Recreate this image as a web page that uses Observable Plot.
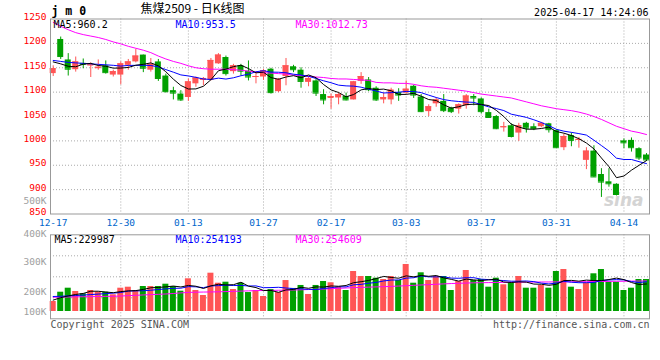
<!DOCTYPE html>
<html><head><meta charset="utf-8">
<script src="https://cdn.jsdelivr.net/npm/d3@7"></script>
<script src="https://cdn.jsdelivr.net/npm/@observablehq/plot@0.6"></script>
<style>
body{margin:0;background:#fff;}
#wrap{position:relative;width:660px;height:360px;overflow:hidden;background:#fff;}
</style></head><body><div id="wrap"></div>
<script>
const dates = ["12-17","12-18","12-19","12-20","12-23","12-24","12-25","12-26","12-27","12-30","12-31",
"01-02","01-03","01-06","01-07","01-08","01-09","01-10","01-13","01-14","01-15","01-16","01-17","01-20","01-21","01-22","01-23","01-24","01-27",
"02-05","02-06","02-07","02-10","02-11","02-12","02-13","02-14","02-17","02-18","02-19","02-20","02-21","02-24","02-25","02-26","02-27","02-28",
"03-03","03-04","03-05","03-06","03-07","03-10","03-11","03-12","03-13","03-14","03-17","03-18","03-19","03-20","03-21","03-24","03-25","03-26","03-27","03-28","03-31",
"04-01","04-02","04-03","04-07","04-08","04-09","04-10","04-11","04-14","04-15","04-16","04-17"];
const open  = [1138,1208,1166,1146,1159,1154,1148,1154,1135,1135,1155,1162,1176,1145,1162,1133,1103,1096,1089,1117,1124,1124,1158,1171,1142,1154,1143,1130,1131,1147,1101,1132,1152,1145,1120,1123,1095,1087,1088,1091,1084,1122,1125,1108,1084,1084,1099,1098,1112,1090,1060,1076,1081,1067,1065,1072,1091,1086,1058,1050,1027,1031,1016,1036,1029,1029,1035,1021,986,1011,1001,960,979,931,916,911,1000,1001,984,971];
const high  = [1154,1213,1179,1172,1168,1160,1166,1164,1145,1162,1167,1188,1176,1169,1167,1137,1110,1103,1127,1131,1130,1169,1179,1174,1157,1157,1164,1140,1147,1149,1128,1169,1155,1150,1132,1127,1105,1096,1098,1098,1122,1140,1130,1111,1098,1108,1107,1123,1114,1095,1074,1088,1095,1069,1076,1095,1095,1088,1065,1052,1038,1035,1036,1038,1035,1038,1036,1023,1014,1016,1007,986,990,943,943,912,1004,1006,986,974];
const low   = [1132,1167,1133,1141,1148,1130,1145,1137,1131,1115,1145,1160,1140,1141,1122,1098,1084,1081,1081,1110,1113,1123,1157,1133,1137,1133,1123,1117,1124,1096,1099,1113,1140,1108,1111,1091,1074,1065,1074,1082,1084,1116,1101,1081,1076,1074,1081,1096,1087,1058,1050,1069,1058,1056,1055,1065,1072,1055,1047,1023,1018,1006,999,1016,1021,1027,1016,985,980,988,985,941,925,884,905,887,984,977,960,958];
const close = [1148,1173,1147,1162,1157,1156,1151,1140,1142,1158,1162,1174,1149,1157,1128,1101,1098,1084,1121,1129,1128,1165,1176,1138,1154,1143,1131,1132,1144,1099,1126,1154,1146,1122,1128,1098,1084,1091,1095,1084,1121,1132,1105,1084,1089,1104,1094,1106,1094,1060,1070,1084,1062,1060,1074,1092,1088,1060,1048,1025,1029,1009,1031,1026,1025,1036,1023,986,1009,1001,1003,979,926,915.5,912,890,996,986,965,961];
const ma5  = [1162,1158,1153,1152,1157.4,1159.0,1154.6,1153.2,1149.2,1149.4,1150.6,1155.2,1157.0,1160.0,1154.0,1141.8,1126.6,1113.6,1106.4,1106.6,1112.0,1125.4,1143.8,1147.2,1152.2,1155.2,1148.4,1139.6,1140.8,1129.8,1126.4,1131.0,1133.8,1129.4,1135.2,1129.6,1115.6,1104.6,1099.2,1090.4,1095.0,1104.6,1107.4,1105.2,1106.2,1102.8,1095.2,1095.4,1097.4,1091.6,1084.8,1082.8,1074.0,1067.2,1070.0,1074.4,1075.2,1074.8,1072.4,1062.6,1050.0,1034.2,1028.4,1024.0,1024.0,1025.4,1028.2,1019.2,1015.8,1011.0,1004.4,995.6,983.6,964.9,947.1,924.5,927.9,939.9,949.8,959.6];
const ma10 = [1165,1163,1161,1160,1159,1158,1157,1156,1155,1153.4,1154.8,1154.9,1155.1,1154.6,1151.7,1146.2,1140.9,1135.3,1133.2,1130.3,1126.9,1126.0,1128.7,1126.8,1129.4,1133.6,1136.9,1141.7,1144.0,1141.0,1140.8,1139.7,1136.7,1135.1,1132.5,1128.0,1123.3,1119.2,1114.3,1112.8,1112.3,1110.1,1106.0,1102.2,1098.3,1098.9,1099.9,1101.4,1101.3,1098.9,1093.8,1089.0,1084.7,1082.3,1080.8,1079.6,1079.0,1074.4,1069.8,1066.3,1062.2,1054.7,1051.6,1048.2,1043.3,1037.7,1031.2,1023.8,1019.9,1017.5,1014.9,1011.9,1001.4,990.4,979.1,964.5,961.8,961.8,957.4,953.4];
const ma30 = [1243,1235,1228,1222,1218,1215,1212,1208,1203,1199,1194,1190,1186,1181,1174,1168,1163,1159,1154,1150,1148,1147,1147,1147,1146,1145,1143,1141,1140,1139,1138,1137,1135,1134,1132,1131,1130,1128,1127,1127,1126,1125,1124,1120,1119,1119,1118,1118,1116,1113,1111,1110,1108,1106,1104,1102,1099,1096,1094,1092,1090,1088,1084,1080,1076,1072,1069,1066,1064,1062,1059,1055,1050,1044,1037,1030,1025,1020,1017,1013];
const volume = [83300,160800,194200,166700,147500,175000,160800,160800,139200,194200,202500,175000,208300,208300,208300,227500,208300,169200,272500,175000,133300,319200,235800,244200,183300,235800,158000,175000,125000,183000,158000,258000,192000,217000,142000,217000,250000,239200,202500,175000,333300,291700,291700,277500,266700,291700,258300,391700,235800,322500,258300,291700,291700,175000,250000,341700,258300,266700,202500,277500,222500,239200,291700,194200,194200,216700,194200,333300,350000,202500,183300,239200,314200,350000,244200,244200,175000,194200,266700,266700];
const volMa5 = [95000,115000,130000,142000,150500,168800,168800,162200,156700,166000,171500,174300,183800,197700,200500,205500,212100,204300,217200,210500,191700,213800,227200,221500,223200,243700,211400,199300,175400,175400,159800,179800,183200,201600,193400,205200,203600,213000,210100,216700,240000,248300,258800,273800,292200,283900,277200,297200,288800,300000,293300,300000,280000,267800,253300,270000,263300,258300,263800,269300,245500,241700,246700,245000,228400,227200,218200,226500,257700,259300,252700,261700,257800,257800,266200,278400,265500,241500,224900,229400];
const volMa10 = [125000,127000,130000,133000,137000,141000,145000,149000,153000,158300,170200,171600,173000,177200,183200,188500,193200,194100,207400,205500,198600,213000,215700,219300,216800,217700,212600,213200,198500,199300,201700,195600,191200,188500,184400,182500,191700,198100,205900,205100,222600,226000,235900,242000,254500,261900,262800,278000,281300,296100,288600,288600,288600,278300,276700,281700,281700,269200,265800,261300,257800,252500,252500,254400,248900,236400,229900,236600,251400,243900,239900,239900,242200,257800,262800,265500,263600,249700,241400,247800];
const volMa30 = [119000,120000,121000,122000,123000,124000,125000,126000,127000,129000,132000,135000,138000,141000,143000,146000,150000,155000,159000,161000,162000,163000,164000,166000,168000,170000,172000,174000,175000,176000,177000,178000,179000,181000,183000,185000,187000,190000,193000,196000,199000,201000,203000,205000,207000,209000,212000,215000,218000,221000,224000,227000,230000,233000,235000,237000,239000,240000,241000,242000,243000,244000,244000,245000,245000,246000,246000,247000,247000,248000,248000,249000,250000,250000,251000,252000,252000,253000,254000,254600];
const xTickLabels = ["12-17","12-30","01-13","01-27","02-17","03-03","03-17","03-31","04-14"];
const priceTicks = [850,900,950,1000,1050,1100,1150,1200,1250];
const volTicks = [100000,200000,300000,400000,500000];
const maText = ["MA5:960.2","MA10:953.5","MA30:1012.73"];
const volMaText = ["MA5:229987","MA10:254193","MA30:254609"];

const RED = "#ff5555", GREEN = "#00a000", GRID = "#aaaaaa", FRAME = "#999999";
const MONO = "DejaVu Sans Mono";
const rows = dates.map((d, i) => ({i, d, o: open[i], h: high[i], l: low[i], c: close[i], v: volume[i]}));
const col = r => (r.c >= r.o ? RED : GREEN);
const tickIdx = xTickLabels.map(t => dates.indexOf(t));
const xDomain = [-0.36, 79.4];
const half = 0.4;
const baseStyle = {background: "transparent", fontFamily: MONO, fontSize: "10px", overflow: "visible"};
const dash = "1,2";
const series = arr => arr.map((v, i) => [i, v]);
const kfmt = d => d / 1000 + "K";
const wrap = document.getElementById("wrap");
function place(el, top) { el.style.position = "absolute"; el.style.left = "0px"; el.style.top = top + "px"; wrap.appendChild(el); }

const main = Plot.plot({
  width: 660, height: 230, marginLeft: 50, marginRight: 11, marginTop: 18.5, marginBottom: 16.5,
  x: {domain: xDomain, axis: null},
  y: {domain: [850, 1250], axis: null},
  color: {type: "identity"},
  style: baseStyle,
  marks: [
    Plot.ruleY(priceTicks.filter(v => v > 850 && v < 1250), {y: d => d, stroke: GRID, strokeDasharray: dash}),
    Plot.ruleX(tickIdx.filter(i => i > 0), {x: d => d, stroke: GRID, strokeDasharray: dash}),
    Plot.text(["sina"], {frameAnchor: "bottom-right", dx: -6, dy: -13, fill: "#d4d4d4", fontSize: 17, fontWeight: "bold", fontStyle: "italic", fontFamily: "DejaVu Sans", textAnchor: "end", lineAnchor: "middle"}),
    Plot.ruleX(rows, {x: "i", y1: "l", y2: "h", stroke: col}),
    Plot.rect(rows, {x1: r => r.i - half, x2: r => r.i + half, y1: r => Math.min(r.o, r.c), y2: r => Math.max(r.o, r.c), fill: col}),
    Plot.ruleY(rows, {x1: r => r.i - half, x2: r => r.i + half, y: "c", stroke: col}),
    Plot.line(series(ma30), {stroke: "#ff00ff", strokeWidth: 1, clip: true}),
    Plot.line(series(ma10), {stroke: "#0000ff", strokeWidth: 1, clip: true}),
    Plot.line(series(ma5), {stroke: "#000000", strokeWidth: 1, clip: true}),
    Plot.frame({stroke: FRAME}),
    Plot.text(priceTicks, {y: d => d, text: d => String(d), frameAnchor: "left", textAnchor: "end", lineAnchor: "middle", dx: -4, dy: -2, fill: "#ff0000", fontSize: 9.5}),
    Plot.text(tickIdx, {x: d => d, text: (d, i) => xTickLabels[i], frameAnchor: "bottom", lineAnchor: "middle", dy: 9, fill: "#0066cc", fontSize: 9.5}),
    Plot.text([maText[0]], {frameAnchor: "top-left", textAnchor: "start", lineAnchor: "middle", dx: 3, dy: 5.5, fill: "#000000"}),
    Plot.text([maText[1]], {frameAnchor: "top-left", textAnchor: "start", lineAnchor: "middle", dx: 125, dy: 5.5, fill: "#0000ff"}),
    Plot.text([maText[2]], {frameAnchor: "top-left", textAnchor: "start", lineAnchor: "middle", dx: 245, dy: 5.5, fill: "#ff00ff"}),
    Plot.text(["j m 0"], {frameAnchor: "top-left", textAnchor: "start", lineAnchor: "middle", dx: 1, dy: -8, fontWeight: "bold", fontSize: 11.5, fill: "#000"}),
    Plot.text(["焦煤2509 - 日K线图"], {frameAnchor: "top-left", textAnchor: "start", lineAnchor: "middle", dx: 90, dy: -10, fontFamily: "Noto Sans CJK SC", fontSize: 12, fill: "#000"}),
    Plot.text(["2025-04-17 14:24:06"], {frameAnchor: "top-right", textAnchor: "end", lineAnchor: "middle", dx: -1, dy: -6.5, fill: "#000"})
  ]
});
place(main, 0);

const vTop = 234.3 - 190, vBottom = 330 - 318.3;
const volDomain = [-60833, 639167];
const volGrid = [1, 2, 3].map(k => volDomain[0] + (volDomain[1] - volDomain[0]) * k / 4);
const vol = Plot.plot({
  width: 660, height: 140, marginLeft: 50, marginRight: 11, marginTop: vTop, marginBottom: vBottom,
  x: {domain: xDomain, axis: null},
  y: {domain: volDomain, axis: null},
  color: {type: "identity"},
  style: baseStyle,
  marks: [
    Plot.ruleY(volGrid, {y: d => d, stroke: GRID, strokeDasharray: dash}),
    Plot.ruleX(tickIdx.filter(i => i > 0), {x: d => d, stroke: GRID, strokeDasharray: dash}),
    Plot.rect(rows, {x1: r => r.i - half, x2: r => r.i + half, y1: 0, y2: "v", fill: col}),
    Plot.line(series(volMa30), {stroke: "#ff00ff", strokeWidth: 1}),
    Plot.line(series(volMa10), {stroke: "#0000ff", strokeWidth: 1}),
    Plot.line(series(volMa5), {stroke: "#000000", strokeWidth: 1}),
    Plot.frame({stroke: FRAME}),
    Plot.text([volMaText[0]], {frameAnchor: "top-left", textAnchor: "start", lineAnchor: "middle", dx: 4, dy: 4.5, fill: "#000000"}),
    Plot.text([volMaText[1]], {frameAnchor: "top-left", textAnchor: "start", lineAnchor: "middle", dx: 125, dy: 4.5, fill: "#0000ff"}),
    Plot.text([volMaText[2]], {frameAnchor: "top-left", textAnchor: "start", lineAnchor: "middle", dx: 245, dy: 4.5, fill: "#ff00ff"}),
    Plot.text(["Copyright 2025 SINA.COM"], {frameAnchor: "bottom-left", textAnchor: "start", lineAnchor: "middle", dx: 0, dy: 6, fill: "#555"}),
    Plot.text(["http://finance.sina.com.cn"], {frameAnchor: "bottom-right", textAnchor: "end", lineAnchor: "middle", dx: 0, dy: 6, fill: "#555"})
  ]
});
place(vol, 190);

const lab = Plot.plot({
  width: 50, height: 140, marginLeft: 0, marginRight: 0, marginTop: 0, marginBottom: 0,
  y: {domain: [100000, 500000], range: [130, 10], axis: null},
  style: baseStyle,
  marks: [
    Plot.text(volTicks.filter(v => v === 500000), {y: d => d, text: kfmt, frameAnchor: "right", textAnchor: "end", lineAnchor: "middle", dx: -4, dy: 0, fill: "#a0a0a0", fontSize: 9.5}),
    Plot.text(volTicks.filter(v => v === 400000), {y: d => d, text: kfmt, frameAnchor: "right", textAnchor: "end", lineAnchor: "middle", dx: -4, dy: 3.8, fill: "#a0a0a0", fontSize: 9.5}),
    Plot.text(volTicks.filter(v => v > 100000 && v < 400000), {y: d => d, text: kfmt, frameAnchor: "right", textAnchor: "end", lineAnchor: "middle", dx: -4, dy: 1.5, fill: "#a0a0a0", fontSize: 9.5}),
    Plot.text(volTicks.filter(v => v === 100000), {y: d => d, text: kfmt, frameAnchor: "right", textAnchor: "end", lineAnchor: "middle", dx: -4, dy: -9, fill: "#a0a0a0", fontSize: 9.5})
  ]
});
place(lab, 190);
</script></body></html>
